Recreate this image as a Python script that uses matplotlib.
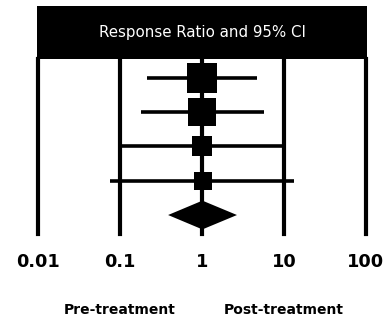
import numpy as np
import matplotlib
matplotlib.use("Agg")
import matplotlib.pyplot as plt
from matplotlib.transforms import blended_transform_factory

# Study-level response ratios with 95% confidence limits
ratios = [0.99, 1.01, 1.01, 1.04]
lower = [0.21, 0.18, 0.10, 0.076]
upper = [4.7, 5.7, 10.0, 13.2]
weights = [37.9, 32.8, 16.3, 13.0]  # relative weight (%)

# Pooled estimate
pooled_ratio = 1.01
pooled_lower = 0.385
pooled_upper = 2.67

tick_values = [0.01, 0.1, 1, 10, 100]
tick_labels = ["0.01", "0.1", "1", "10", "100"]
header_title = "Response Ratio and 95% CI"
side_labels = ["Pre-treatment", "Post-treatment"]
side_positions = [0.1, 10]

W_PX, H_PX = 388, 321
fig = plt.figure(figsize=(W_PX / 100, H_PX / 100), dpi=100)
fig.patch.set_facecolor("white")

def fx(px):
    return px / W_PX

def fy(py):
    return 1 - py / H_PX

# Main forest area
left_px, right_px, top_px, bottom_px = 38.3, 365.8, 59, 234
ax = fig.add_axes([fx(left_px), fy(bottom_px),
                   fx(right_px) - fx(left_px), fy(top_px) - fy(bottom_px)])
ax.set_xscale("log")
ax.set_xlim(tick_values[0], tick_values[-1])
n = len(ratios)
rows = np.arange(1, n + 1)
pooled_row = n + 1
ax.set_ylim(pooled_row + 0.554, 0.446)
for s in ax.spines.values():
    s.set_visible(False)
ax.set_yticks([])

# Reference lines at each decade
for t in tick_values:
    ax.axvline(t, color="black", lw=3.0, clip_on=False, zorder=1)

# Whiskers and weight-scaled squares
max_side_pt = 20.9
for r, est, lo, hi, w in zip(rows, ratios, lower, upper, weights):
    ax.plot([lo, hi], [r, r], color="black", lw=2.6, solid_capstyle="butt",
            clip_on=False, zorder=2)
    side = max_side_pt * np.sqrt(w / max(weights))
    ax.plot([est], [r], marker="s", ms=side, color="black", mew=0,
            clip_on=False, zorder=3)

# Pooled diamond
half_h = 0.42
ax.fill([pooled_lower, pooled_ratio, pooled_upper, pooled_ratio],
        [pooled_row, pooled_row - half_h, pooled_row, pooled_row + half_h],
        color="black", lw=0, zorder=3, clip_on=False)

ax.set_xticks(tick_values)
ax.set_xticklabels(tick_labels, fontsize=12.8, fontweight="bold",
                   family="DejaVu Sans")
ax.minorticks_off()
ax.tick_params(axis="x", length=0, pad=14)

# Header bar
hx0, hx1, hy0, hy1 = 37, 367, 6, 59
hax = fig.add_axes([fx(hx0), fy(hy1), fx(hx1) - fx(hx0), fy(hy0) - fy(hy1)])
hax.set_facecolor("black")
hax.set_xticks([])
hax.set_yticks([])
for s in hax.spines.values():
    s.set_visible(False)
fig.text(fx(202.5), fy(36.5), header_title, color="white", fontsize=10.8,
         ha="center", va="baseline", family="DejaVu Sans")

# Direction labels under the axis
trans = blended_transform_factory(ax.transData, fig.transFigure)
for lab, xp in zip(side_labels, side_positions):
    ax.text(xp, fy(314), lab, transform=trans, ha="center", va="baseline",
            fontsize=10, fontweight="bold", family="DejaVu Sans")

fig.savefig("out.png", dpi=100)
